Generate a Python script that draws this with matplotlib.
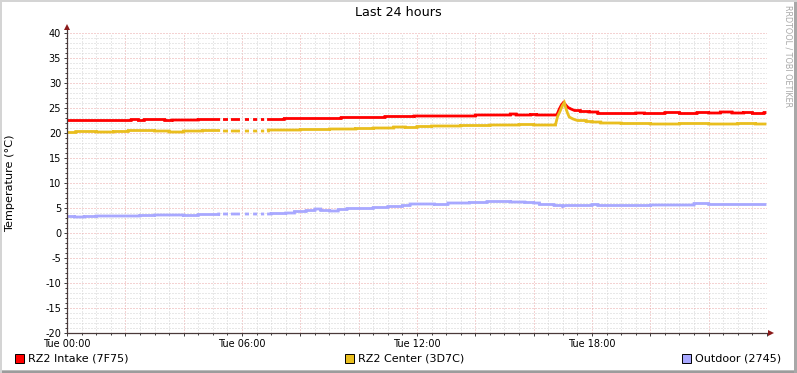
import numpy as np
import matplotlib
matplotlib.use("Agg")
import matplotlib.pyplot as plt
from matplotlib.ticker import MultipleLocator, FuncFormatter
from matplotlib.patches import Rectangle

# ---------------- data (hours since Tue 00:00, degrees C) ----------------
title = "Last 24 hours"
ylabel = "Temperature (°C)"
watermark = "RRDTOOL / TOBI OETIKER"
xtick_hours = [0, 6, 12, 18]
xtick_labels = ["Tue 00:00", "Tue 06:00", "Tue 12:00", "Tue 18:00"]
series_names = ["RZ2 Intake (7F75)", "RZ2 Center (3D7C)", "Outdoor (2745)"]

intake_t = [0, 2.2, 2.45, 2.65, 3.35, 3.6, 4.5, 7.45, 9.4, 10.9, 11.9, 14.0,
            15.2, 15.4, 15.9, 16.1, 16.8, 16.88, 16.95, 17.02, 17.1, 17.18,
            17.28, 17.4, 17.6, 17.9, 18.2, 19.5, 19.8, 20.5, 21.0, 21.6,
            22.0, 22.4, 22.8, 23.2, 23.5, 23.9]
intake_v = [22.5, 22.7, 22.5, 22.7, 22.5, 22.6, 22.7, 22.9, 23.1, 23.3, 23.4, 23.6,
            23.8, 23.6, 23.7, 23.6, 23.7, 24.8, 25.6, 26.1, 25.6, 25.1,
            24.8, 24.5, 24.3, 24.2, 23.9, 24.0, 23.9, 24.1, 23.9, 24.1,
            24.0, 24.2, 24.0, 24.1, 23.9, 24.1]

center_t = [0, 0.3, 1.0, 1.6, 2.1, 3.0, 3.5, 4.0, 4.65, 5.3, 6.9, 8.0, 9.0,
            9.9, 10.5, 11.2, 11.6, 12.0, 12.5, 13.5, 14.5, 15.5, 16.0, 16.75,
            16.82, 16.9, 16.98, 17.05, 17.1, 17.16, 17.22, 17.35, 17.5,
            17.8, 18.0, 18.3, 19.0, 20.0, 21.0, 22.0, 23.0, 23.6]
center_v = [20.1, 20.3, 20.2, 20.3, 20.5, 20.4, 20.2, 20.4, 20.5, 20.4, 20.6, 20.7, 20.8,
            20.9, 21.0, 21.2, 21.1, 21.3, 21.4, 21.5, 21.6, 21.7, 21.6, 21.7,
            23.3, 24.3, 25.4, 26.1, 25.0, 24.0, 23.2, 22.8, 22.5,
            22.3, 22.2, 22.0, 21.9, 21.8, 21.9, 21.8, 21.9, 21.8]

outdoor_t = [0, 0.25, 0.6, 1.0, 2.5, 3.0, 4.0, 4.5, 5.2, 7.0, 7.5, 7.8, 8.2,
             8.5, 8.7, 9.0, 9.3, 9.6, 10.5, 11.0, 11.5, 11.76, 12.6, 13.06,
             13.8, 14.4, 15.2, 15.7, 16.0, 16.2, 16.7, 17.0, 17.1, 18.0, 18.2,
             20.0, 21.5, 22.0]
outdoor_v = [3.3, 3.2, 3.3, 3.4, 3.5, 3.6, 3.5, 3.7, 3.8, 3.9, 4.0, 4.3, 4.5,
             4.8, 4.5, 4.4, 4.7, 4.9, 5.1, 5.3, 5.5, 5.8, 5.7, 6.0,
             6.1, 6.3, 6.2, 6.1, 6.0, 5.7, 5.5, 5.3, 5.5, 5.7, 5.5,
             5.6, 5.9, 5.7]

# missing data intervals (hours)
gaps = [(5.25, 5.35), (5.52, 5.62), (5.93, 6.10), (6.24, 6.38), (6.52, 6.65), (6.76, 6.86)]
end_hour = 23.98

colors = ["#FF0000", "#E9BE1E", "#A8A8FF"]


def build_path(ts, vs):
    """Step path between read breakpoints; closely spaced points are joined directly."""
    pts = list(zip(ts, vs)) + [(end_hour, vs[-1])]
    px, py = [pts[0][0]], [pts[0][1]]
    for i in range(1, len(pts)):
        t, v = pts[i]
        tp, vp = pts[i - 1]
        if t - tp >= 0.15 or i == len(pts) - 1:
            px.append(t); py.append(vp)
        px.append(t); py.append(v)
    px = np.array(px, dtype=float)
    py = np.array(py, dtype=float)
    # cut out missing-data intervals
    out_x, out_y = [], []
    for i in range(len(px)):
        if i > 0:
            for a, b in gaps:
                if px[i - 1] < a <= px[i] or px[i - 1] < b <= px[i]:
                    pass
        out_x.append(px[i]); out_y.append(py[i])
    fx, fy = [], []
    for i in range(len(out_x)):
        x, y = out_x[i], out_y[i]
        if i > 0:
            xp, yp = out_x[i - 1], out_y[i - 1]
            for a, b in gaps:
                if xp < a < x:
                    ya = yp + (y - yp) * (a - xp) / (x - xp) if x != xp else y
                    fx += [a, a]; fy += [ya, np.nan]
                if xp < b < x:
                    yb = yp + (y - yp) * (b - xp) / (x - xp) if x != xp else y
                    fx += [b]; fy += [yb]
        if any(a < x < b for a, b in gaps):
            continue
        fx.append(x); fy.append(y)
    return np.array(fx), np.array(fy)


W, H = 797, 373
fig = plt.figure(figsize=(W / 100, H / 100), dpi=100)
fig.patch.set_facecolor("white")

x0, x1 = 67, 767
y0, y1 = 33, 333
ax = fig.add_axes([x0 / W, 1 - y1 / H, (x1 - x0) / W, (y1 - y0) / H])
ax.set_facecolor("white")
ax.set_xlim(0, 24)
ax.set_ylim(-20, 40)
for s in ax.spines.values():
    s.set_visible(False)

ax.xaxis.set_major_locator(MultipleLocator(2))
ax.xaxis.set_minor_locator(MultipleLocator(0.5))
ax.yaxis.set_major_locator(MultipleLocator(5))
ax.yaxis.set_minor_locator(MultipleLocator(1))

lab = dict(zip(xtick_hours, xtick_labels))
ax.xaxis.set_major_formatter(FuncFormatter(
    lambda v, p: lab.get(int(round(v)), "") if abs(v - round(v)) < 1e-6 else ""))
ax.yaxis.set_major_formatter(FuncFormatter(lambda v, p: f"{int(v)}"))

ax.grid(which="minor", color="#d2d2d2", linestyle=(0, (1, 2)), linewidth=0.72)
ax.grid(which="major", color="#eaa6a6", linestyle=(0, (1, 2)), linewidth=0.72)
ax.set_axisbelow(True)

ax.tick_params(which="major", length=2.2, width=0.72, color="#404040", labelsize=7, pad=2,
               labelcolor="black")
ax.tick_params(which="minor", length=1.2, width=0.72, color="#404040")

# data lines
for ts, vs, c in [(intake_t, intake_v, colors[0]), (center_t, center_v, colors[1]),
                  (outdoor_t, outdoor_v, colors[2])]:
    tt, vv = build_path(ts, vs)
    ax.plot(tt, vv, color=c, linewidth=2.0,
            solid_capstyle="butt", solid_joinstyle="miter", zorder=3)

# axes with arrows
ax.plot([0, 0], [-20, 41.2], color="#4a3a3a", linewidth=0.9, clip_on=False, zorder=4)
ax.plot([0, 24.1], [-20, -20], color="#4a3a3a", linewidth=0.9, clip_on=False, zorder=4)
ax.plot([0], [41.3], marker="^", markersize=4.5, color="#8b1a1a", clip_on=False, zorder=5,
        markeredgewidth=0)
ax.plot([24.15], [-20], marker=">", markersize=4.5, color="#8b1a1a", clip_on=False, zorder=5,
        markeredgewidth=0)

# texts
fig.text(398 / W, 1 - 13 / H, title, ha="center", va="center", fontsize=9.2,
         family="DejaVu Sans")
fig.text(10 / W, 1 - 183 / H, ylabel, ha="center", va="center", rotation=90,
         fontsize=8.1, family="DejaVu Sans")
fig.text(788 / W, 1 - 5 / H, watermark, ha="center", va="top", rotation=270,
         fontsize=5.8, color="#a8a8a8", family="DejaVu Sans")

# legend
leg_x = [15, 345, 682]
for lx, name, c in zip(leg_x, series_names, colors):
    fig.patches.append(Rectangle((lx / W, 1 - 363 / H), 9 / W, 9 / H, transform=fig.transFigure,
                                 facecolor=c, edgecolor="black", linewidth=0.7))
    fig.text((lx + 13) / W, 1 - 358.5 / H, name, ha="left", va="center", fontsize=8.0,
             family="DejaVu Sans")

# frame
fig.patches.append(Rectangle((0, 0), 1, 2 / H, transform=fig.transFigure, facecolor="#9c9c9c",
                             edgecolor="none"))
fig.patches.append(Rectangle((0, 2 / H), 1, 1 / H, transform=fig.transFigure, facecolor="#bcbcbc",
                             edgecolor="none"))
fig.patches.append(Rectangle((1 - 3 / W, 0), 3 / W, 1, transform=fig.transFigure, facecolor="#a8a8a8",
                             edgecolor="none"))
fig.patches.append(Rectangle((0, 1 - 2 / H), 1, 2 / H, transform=fig.transFigure, facecolor="#d4d4d4",
                             edgecolor="none"))
fig.patches.append(Rectangle((0, 0), 2 / W, 1, transform=fig.transFigure, facecolor="#d4d4d4",
                             edgecolor="none"))

fig.savefig("out.png", dpi=100, facecolor="white")
